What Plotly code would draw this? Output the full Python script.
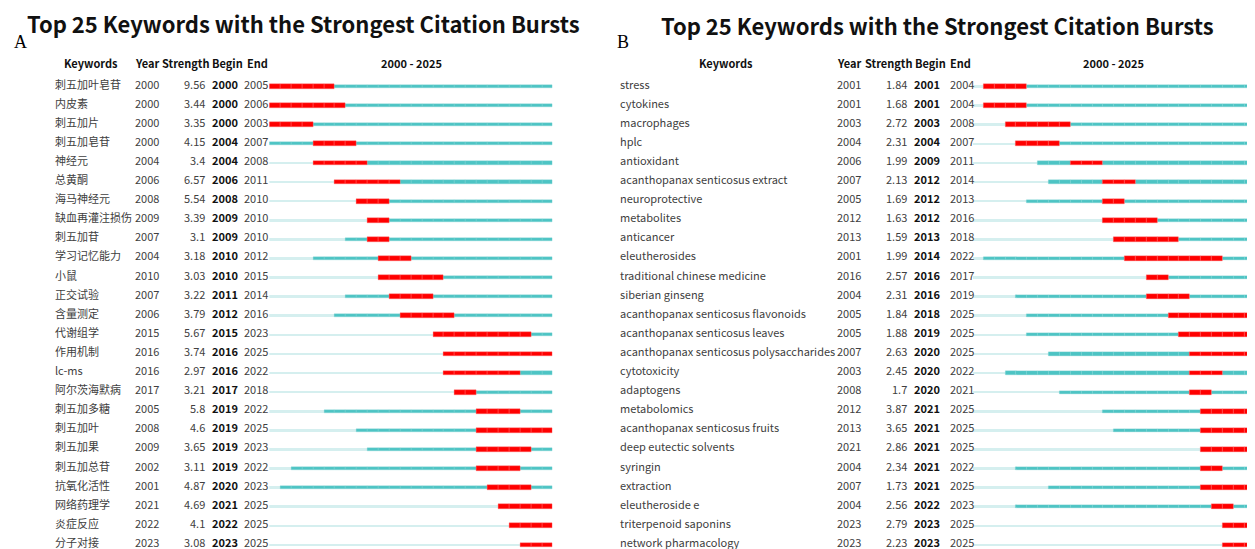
import plotly.graph_objects as go

# ---------------- data ----------------
A_keywords = ["刺五加叶皂苷", "内皮素", "刺五加片", "刺五加皂苷", "神经元", "总黄酮", "海马神经元",
              "缺血再灌注损伤", "刺五加苷", "学习记忆能力", "小鼠", "正交试验", "含量测定", "代谢组学",
              "作用机制", "lc-ms", "阿尔茨海默病", "刺五加多糖", "刺五加叶", "刺五加果", "刺五加总苷",
              "抗氧化活性", "网络药理学", "炎症反应", "分子对接"]
A_year = [2000, 2000, 2000, 2000, 2004, 2006, 2008, 2009, 2007, 2004, 2010, 2007, 2006, 2015,
          2016, 2016, 2017, 2005, 2008, 2009, 2002, 2001, 2021, 2022, 2023]
A_strength = [9.56, 3.44, 3.35, 4.15, 3.4, 6.57, 5.54, 3.39, 3.1, 3.18, 3.03, 3.22, 3.79, 5.67,
              3.74, 2.97, 3.21, 5.8, 4.6, 3.65, 3.11, 4.87, 4.69, 4.1, 3.08]
A_begin = [2000, 2000, 2000, 2004, 2004, 2006, 2008, 2009, 2009, 2010, 2010, 2011, 2012, 2015,
           2016, 2016, 2017, 2019, 2019, 2019, 2019, 2020, 2021, 2022, 2023]
A_end = [2005, 2006, 2003, 2007, 2008, 2011, 2010, 2010, 2010, 2012, 2015, 2014, 2016, 2023,
         2025, 2022, 2018, 2022, 2025, 2023, 2022, 2023, 2025, 2025, 2025]

B_keywords = ["stress", "cytokines", "macrophages", "hplc", "antioxidant",
              "acanthopanax senticosus extract", "neuroprotective", "metabolites", "anticancer",
              "eleutherosides", "traditional chinese medicine", "siberian ginseng",
              "acanthopanax senticosus flavonoids", "acanthopanax senticosus leaves",
              "acanthopanax senticosus polysaccharides", "cytotoxicity", "adaptogens", "metabolomics",
              "acanthopanax senticosus fruits", "deep eutectic solvents", "syringin", "extraction",
              "eleutheroside e", "triterpenoid saponins", "network pharmacology"]
B_year = [2001, 2001, 2003, 2004, 2006, 2007, 2005, 2012, 2013, 2001, 2016, 2004, 2005, 2005,
          2007, 2003, 2008, 2012, 2013, 2021, 2004, 2007, 2004, 2023, 2023]
B_strength = [1.84, 1.68, 2.72, 2.31, 1.99, 2.13, 1.69, 1.63, 1.59, 1.99, 2.57, 2.31, 1.84, 1.88,
              2.63, 2.45, 1.7, 3.87, 3.65, 2.86, 2.34, 1.73, 2.56, 2.79, 2.23]
B_begin = [2001, 2001, 2003, 2004, 2009, 2012, 2012, 2012, 2013, 2014, 2016, 2016, 2018, 2019,
           2020, 2020, 2020, 2021, 2021, 2021, 2021, 2021, 2022, 2023, 2023]
B_end = [2004, 2004, 2008, 2007, 2011, 2014, 2013, 2016, 2018, 2022, 2017, 2019, 2025, 2025,
         2025, 2022, 2021, 2025, 2025, 2025, 2022, 2025, 2023, 2025, 2025]

START, STOP = 2000, 2025
TITLE = "Top 25 Keywords with the Strongest Citation Bursts"

# ---------------- styling ----------------
PAGE_OFF = 8                    # browser default body margin
W, H = 1255 - PAGE_OFF, 549 - PAGE_OFF
FONT = "Noto Sans CJK SC"
RED, TEAL, LIGHT = "#FF0000", "#4DC4C4", "#D5EFEF"
TXT = "#404040"
BODY = 11
ROW0_PX, ROW_PX = 83.5 - PAGE_OFF, 19.1   # figure pixel y of first text row, row pitch
LINE_OFF = 0.16

fig = go.Figure()


def px_x(p):          # window pixel -> paper x
    return (p - PAGE_OFF) / W


def px_y(p):          # window pixel -> paper y
    return 1 - (p - PAGE_OFF) / H


def add_panel(kw, yr, st, bg, en, xaxis, cols):
    light_y, light_b, teal_y, teal_b, red_y, red_b = [], [], [], [], [], []
    for i in range(len(kw)):
        for y in range(START, STOP + 1):
            yy = i + LINE_OFF
            if bg[i] <= y <= en[i]:
                red_y.append(yy); red_b.append(y)
            elif y >= yr[i]:
                teal_y.append(yy); teal_b.append(y)
            else:
                light_y.append(yy); light_b.append(y)
    for ys, bs, col, w, lc, lw in [
        (light_y, light_b, LIGHT, 2.6 / ROW_PX, LIGHT, 0),
        (teal_y, teal_b, TEAL, 3.2 / ROW_PX, "#7dd3d3", 0.3),
        (red_y, red_b, RED, 4.8 / ROW_PX, "#FF6a6a", 0.35),
    ]:
        fig.add_trace(go.Bar(
            orientation="h", y=ys, base=bs, x=[1] * len(bs), width=w,
            marker=dict(color=col, line=dict(color=lc, width=lw)),
            xaxis=xaxis, yaxis="y", showlegend=False, hoverinfo="skip"))

    kx, yx, sx, bx, ex = cols
    for i in range(len(kw)):
        common = dict(xref="paper", yref="y", y=i, yanchor="middle", showarrow=False,
                      font=dict(family=FONT, size=BODY, color=TXT))
        fig.add_annotation(x=px_x(kx), xanchor="left", text=kw[i], **common)
        fig.add_annotation(x=px_x(yx), xanchor="left", text=str(yr[i]), **common)
        fig.add_annotation(x=px_x(sx), xanchor="right", text=f"{st[i]:g}", **common)
        fig.add_annotation(x=px_x(bx), xanchor="left", text=f"<b>{bg[i]}</b>",
                           **{**common, "font": dict(family=FONT, size=BODY, color="#111")})
        fig.add_annotation(x=px_x(ex), xanchor="left", text=str(en[i]), **common)


add_panel(A_keywords, A_year, A_strength, A_begin, A_end, "x",
          (53.3, 132.7, 206.7, 210, 241.7))
add_panel(B_keywords, B_year, B_strength, B_begin, B_end, "x2",
          (618.3, 835.3, 909.3, 912, 947.7))

hdr_y = (63 - PAGE_OFF - ROW0_PX) / ROW_PX
hfont = dict(family=FONT, size=11, color="#111")


def add_headers(kw_center, year_l, str_l, beg_l, end_l, tl_center):
    for text, x, anc in [("Keywords", kw_center, "center"), ("Year", year_l, "left"),
                         ("Strength", str_l, "left"), ("Begin", beg_l, "left"),
                         ("End", end_l, "left"), (f"{START} - {STOP}", tl_center, "center")]:
        fig.add_annotation(x=px_x(x), xref="paper", y=hdr_y, yref="y", xanchor=anc,
                           yanchor="middle", showarrow=False, text=f"<b>{text}</b>", font=hfont)


A_L, A_R = 269.3, 552.7
B_L, B_R = 972.5, 1255.0
add_headers(91, 133, 159.5, 210, 245, (A_L + A_R) / 2)
add_headers(726, 835, 862.5, 913, 948, (B_L + B_R) / 2)

# titles and panel letters
for x, y, txt in [(303, 22.5, TITLE), (937, 25, TITLE)]:
    fig.add_annotation(x=px_x(x), y=px_y(y), xref="paper", yref="paper", xanchor="center",
                       yanchor="middle", showarrow=False, text=f"<b>{txt}</b>",
                       font=dict(family=FONT, size=22, color="#111"))
for x, txt in [(12, "A"), (615, "B")]:
    fig.add_annotation(x=px_x(x), y=px_y(42), xref="paper", yref="paper", xanchor="left",
                       yanchor="middle", showarrow=False, text=txt,
                       font=dict(family="Liberation Serif", size=18, color="#000"))

top_i = -ROW0_PX / ROW_PX
bot_i = (H - ROW0_PX) / ROW_PX
axis_common = dict(range=[START, STOP + 1], showgrid=False, zeroline=False,
                   showticklabels=False, ticks="", showline=False, fixedrange=True)
fig.update_layout(
    width=W, height=H, margin=dict(l=0, r=0, t=0, b=0),
    paper_bgcolor="white", plot_bgcolor="white", barmode="overlay", bargap=0,
    xaxis=dict(domain=[px_x(A_L), px_x(A_R)], **axis_common),
    xaxis2=dict(domain=[px_x(B_L), min(px_x(B_R), 1.0)], anchor="y", **axis_common),
    yaxis=dict(range=[bot_i, top_i], domain=[0, 1], showgrid=False, zeroline=False,
               showticklabels=False, ticks="", showline=False, fixedrange=True),
)

fig.write_html("out.html")
